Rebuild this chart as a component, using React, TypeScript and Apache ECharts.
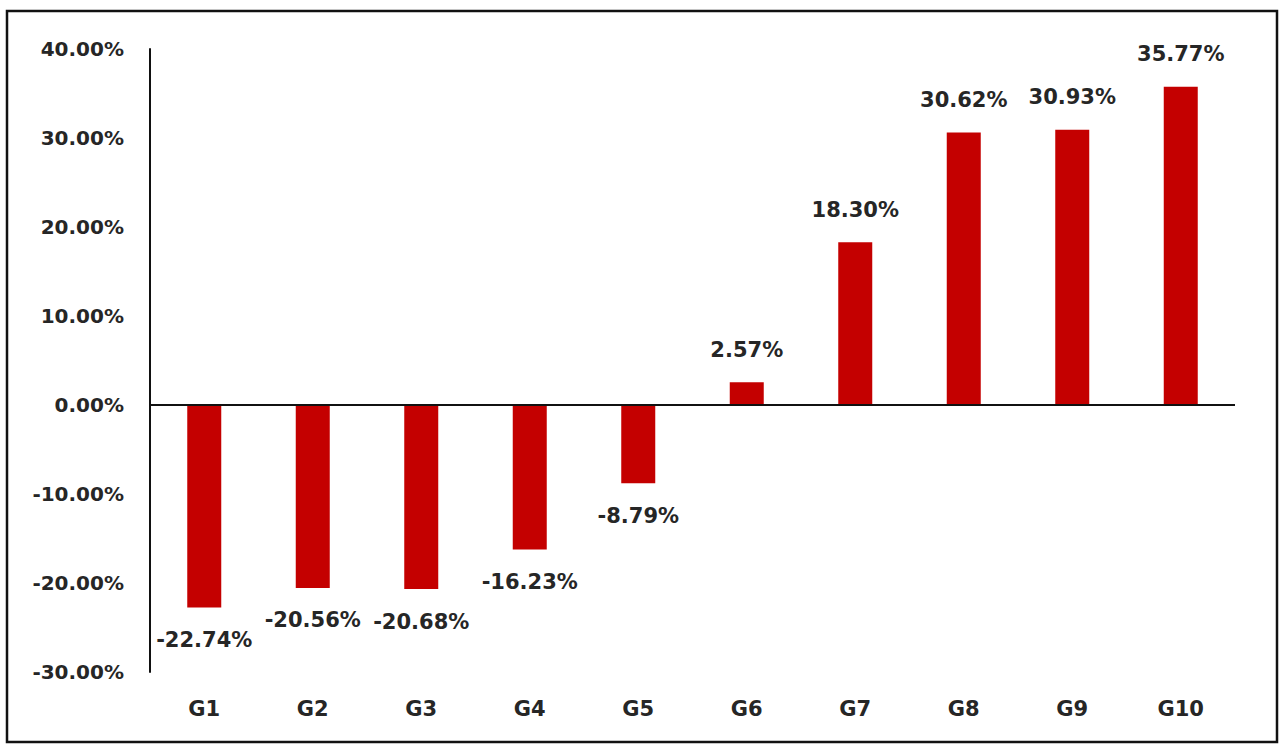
import React, { useEffect, useRef } from "react";
import * as echarts from "echarts";

const categories = ["G1", "G2", "G3", "G4", "G5", "G6", "G7", "G8", "G9", "G10"];
const values = [-22.74, -20.56, -20.68, -16.23, -8.79, 2.57, 18.3, 30.62, 30.93, 35.77];
const yMin = -30;
const yMax = 40;
const yStep = 10;

export default function App() {
  const ref = useRef<HTMLDivElement>(null);
  useEffect(() => {
    document.body.style.margin = "0";
    const chart = echarts.init(ref.current!, null, { renderer: "svg" });
    const font = "DejaVu Sans";
    const textColor = "#262626";
    chart.setOption({
      animation: false,
      backgroundColor: "#ffffff",
      graphic: [
        {
          type: "rect",
          shape: { x: 7, y: 11, width: 1270, height: 731 },
          style: { fill: "none", stroke: "#111", lineWidth: 2.5 },
          silent: true,
        },
      ],
      grid: { left: 150, right: 49, top: 49, bottom: 72 },
      xAxis: {
        type: "category",
        data: categories,
        axisLine: { show: false, onZero: false },
        axisTick: { show: false },
        axisLabel: {
          margin: 26,
          fontFamily: font,
          fontWeight: "bold",
          fontSize: 21,
          color: textColor,
        },
      },
      yAxis: {
        type: "value",
        min: yMin,
        max: yMax,
        interval: yStep,
        splitLine: { show: false },
        axisTick: { show: false },
        axisLine: { show: true, lineStyle: { color: "#111", width: 2 } },
        axisLabel: {
          margin: 26,
          fontFamily: font,
          fontWeight: "bold",
          fontSize: 20,
          color: textColor,
          formatter: (v: number) => v.toFixed(2) + "%",
        },
      },
      series: [
        {
          type: "bar",
          barWidth: 34,
          itemStyle: { color: "#C40000" },
          data: values.map((v) => ({
            value: v,
            label: {
              show: true,
              position: v >= 0 ? "top" : "bottom",
              distance: 22,
              fontFamily: font,
              fontWeight: "bold",
              fontSize: 21,
              color: textColor,
              formatter: (p: any) => Number(p.value).toFixed(2) + "%",
            },
          })),
          markLine: {
            silent: true,
            symbol: "none",
            label: { show: false },
            lineStyle: { color: "#111", width: 2, type: "solid" },
            data: [{ yAxis: 0 }],
          },
        },
      ],
    });
    return () => chart.dispose();
  }, []);
  return <div ref={ref} style={{ width: 1284, height: 744 }} />;
}
